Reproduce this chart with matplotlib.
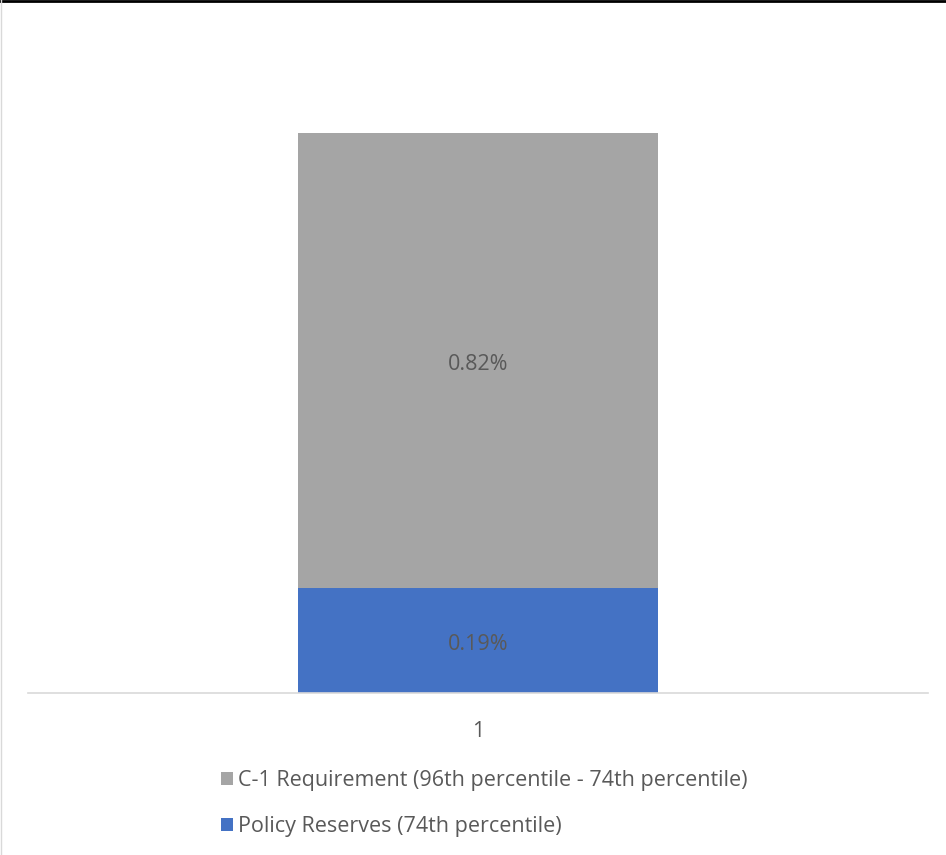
import matplotlib
matplotlib.use("Agg")
import matplotlib.pyplot as plt
from matplotlib.patches import Patch
from matplotlib.lines import Line2D
from matplotlib.transforms import offset_copy

categories = ["1"]
policy_reserves = [0.19]
c1_requirement = [0.82]
series_names = ["C-1 Requirement (96th percentile - 74th percentile)", "Policy Reserves (74th percentile)"]

plt.rcParams['font.family'] = ['Open Sans', 'DejaVu Sans']
W, H = 946, 855
fig = plt.figure(figsize=(W/100, H/100), dpi=100)
ax = fig.add_axes([28/W, (H-693)/H, 900/W, (693-28)/H])

blue = "#4472C4"
gray = "#A5A5A5"
txt = "#595959"

x = list(range(len(categories)))
b1 = ax.bar(x, policy_reserves, width=0.4, color=blue, zorder=2)
b2 = ax.bar(x, c1_requirement, bottom=policy_reserves, width=0.4, color=gray, zorder=2)
lab_tr = offset_copy(ax.transData, fig=fig, x=0, y=-4, units='dots')
for i in x:
    ax.text(i, policy_reserves[i]/2, f"{policy_reserves[i]:.2f}%", ha='center', va='center',
            fontsize=15.5, color=txt, transform=lab_tr)
    ax.text(i, policy_reserves[i] + c1_requirement[i]/2, f"{c1_requirement[i]:.2f}%", ha='center', va='center',
            fontsize=15.5, color=txt, transform=lab_tr)

ax.set_xlim(-0.5, 0.5)
ax.set_ylim(0, 1.2)
ax.set_xticks(x)
ax.set_xticklabels(categories, fontsize=15.5, color=txt)
ax.tick_params(axis='x', length=0, pad=20)
ax.set_yticks([])
for s in ['top', 'right', 'left']:
    ax.spines[s].set_visible(False)
ax.spines['bottom'].set_color('#D9D9D9')
ax.spines['bottom'].set_linewidth(1.2)
ax.spines['bottom'].set_zorder(3)

handles = [Patch(facecolor=gray, edgecolor='none'), Patch(facecolor=blue, edgecolor='none')]
leg = fig.legend(handles, series_names, loc='upper left', bbox_to_anchor=(221/W, 1-(770/H)),
                 frameon=False, fontsize=15.5, handlelength=0.55, handleheight=0.55,
                 handletextpad=0.25, labelspacing=1.15, borderaxespad=0, borderpad=0)
for t in leg.get_texts():
    t.set_color(txt)

# top border line and left edge line
fig.add_artist(Line2D([0, 1], [1-1/H, 1-1/H], transform=fig.transFigure, color='black', linewidth=2))
fig.add_artist(Line2D([0.5/W, 0.5/W], [0, 1], transform=fig.transFigure, color='#D9D9D9', linewidth=1))

fig.savefig("out.png", dpi=100)
